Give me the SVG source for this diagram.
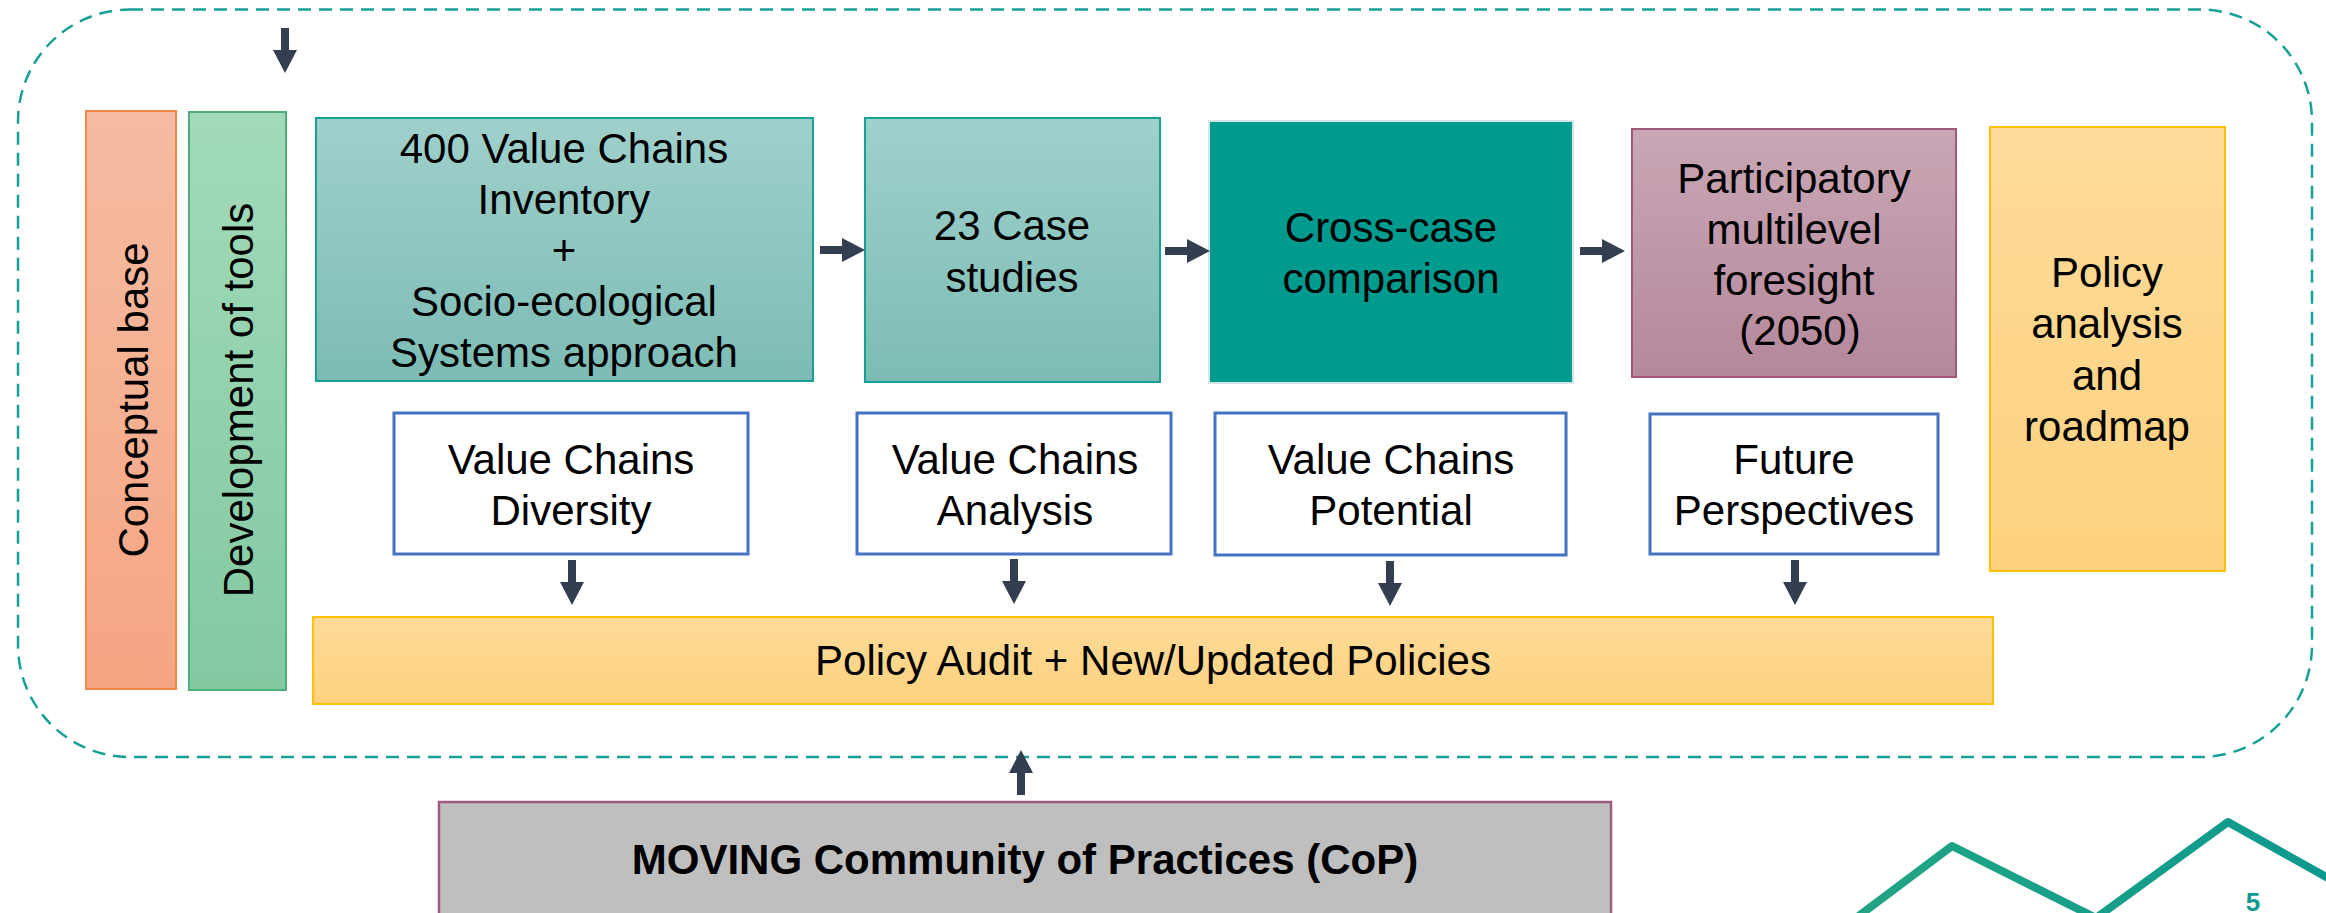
<svg xmlns="http://www.w3.org/2000/svg" width="2326" height="913" viewBox="0 0 2326 913">
  <defs>
    <linearGradient id="gTeal" x1="0" y1="0" x2="0" y2="1">
      <stop offset="0" stop-color="#A0D0CB"/>
      <stop offset="1" stop-color="#7CBCB5"/>
    </linearGradient>
    <linearGradient id="gMauve" x1="0" y1="0" x2="0" y2="1">
      <stop offset="0" stop-color="#C9A7B5"/>
      <stop offset="1" stop-color="#B5889B"/>
    </linearGradient>
    <linearGradient id="gYellow" x1="0" y1="0" x2="0" y2="1">
      <stop offset="0" stop-color="#FEDB9A"/>
      <stop offset="1" stop-color="#FED27E"/>
    </linearGradient>
    <linearGradient id="gOrange" x1="0" y1="0" x2="0" y2="1">
      <stop offset="0" stop-color="#F5BCA3"/>
      <stop offset="1" stop-color="#F5A582"/>
    </linearGradient>
    <linearGradient id="gGreen" x1="0" y1="0" x2="0" y2="1">
      <stop offset="0" stop-color="#A2DABA"/>
      <stop offset="1" stop-color="#82C9A2"/>
    </linearGradient>
    <linearGradient id="gLogo" x1="0" y1="0" x2="1" y2="0">
      <stop offset="0" stop-color="#22A584"/>
      <stop offset="1" stop-color="#0A988E"/>
    </linearGradient>
    <path id="arrowDown" d="M -4 0 L 4 0 L 4 22 L 12 22 L 0 45 L -12 22 L -4 22 Z"/>
  </defs>
  <style>
    text { font-family: "Liberation Sans", Arial, sans-serif; font-size: 42px; fill: #000; text-anchor: middle; }
    .bold { font-weight: bold; }
    .arrow { fill: #333F50; }
    .white { fill: #FFFFFF; stroke: #4472C4; stroke-width: 3; }
    .teal { fill: url(#gTeal); stroke: #17A096; stroke-width: 2; }
  </style>

  <!-- dashed frame -->
  <g id="frame">
    <rect x="18" y="9.5" width="2294" height="747.5" rx="112" ry="112" fill="none" stroke="#17A096" stroke-width="2.5" stroke-dasharray="13 8"/>
  </g>

  <g id="conceptual-base">
    <rect x="86" y="111" width="90" height="578" fill="url(#gOrange)" stroke="#F08A4B" stroke-width="2"/>
    <text transform="translate(148,400) rotate(-90)">Conceptual base</text>
  </g>

  <g id="development-of-tools">
    <rect x="189" y="112" width="97" height="578" fill="url(#gGreen)" stroke="#4DB07A" stroke-width="2"/>
    <text transform="translate(253,400) rotate(-90)">Development of tools</text>
  </g>

  <g id="inventory">
    <rect class="teal" x="316" y="118" width="497" height="263"/>
    <text x="564" y="163">400 Value Chains</text>
    <text x="564" y="214">Inventory</text>
    <text x="564" y="265">+</text>
    <text x="564" y="316">Socio-ecological</text>
    <text x="564" y="367">Systems approach</text>
  </g>

  <g id="case-studies">
    <rect class="teal" x="865" y="118" width="295" height="264"/>
    <text x="1012" y="240">23 Case</text>
    <text x="1012" y="292">studies</text>
  </g>

  <g id="cross-case">
    <rect x="1209" y="121" width="364" height="262" fill="#009A8E" stroke="#D5E5E3" stroke-width="2"/>
    <text x="1391" y="242">Cross-case</text>
    <text x="1391" y="293">comparison</text>
  </g>

  <g id="foresight">
    <rect x="1632" y="129" width="324" height="248" fill="url(#gMauve)" stroke="#A2587A" stroke-width="2"/>
    <text x="1794" y="193">Participatory</text>
    <text x="1794" y="244">multilevel</text>
    <text x="1794" y="295">foresight</text>
    <text x="1800" y="345">(2050)</text>
  </g>

  <g id="policy-analysis">
    <rect x="1990" y="127" width="235" height="444" fill="url(#gYellow)" stroke="#FFC000" stroke-width="2"/>
    <text x="2107" y="287">Policy</text>
    <text x="2107" y="338">analysis</text>
    <text x="2107" y="390">and</text>
    <text x="2107" y="441">roadmap</text>
  </g>

  <g id="vc-diversity">
    <rect class="white" x="394" y="413" width="354" height="141"/>
    <text x="571" y="474">Value Chains</text>
    <text x="571" y="525">Diversity</text>
  </g>

  <g id="vc-analysis">
    <rect class="white" x="857" y="413" width="314" height="141"/>
    <text x="1015" y="474">Value Chains</text>
    <text x="1015" y="525">Analysis</text>
  </g>

  <g id="vc-potential">
    <rect class="white" x="1215" y="413" width="351" height="142"/>
    <text x="1391" y="474">Value Chains</text>
    <text x="1391" y="525">Potential</text>
  </g>

  <g id="future-perspectives">
    <rect class="white" x="1650" y="414" width="288" height="140"/>
    <text x="1794" y="474">Future</text>
    <text x="1794" y="525">Perspectives</text>
  </g>

  <g id="policy-audit">
    <rect x="313" y="617" width="1680" height="87" fill="url(#gYellow)" stroke="#FFC000" stroke-width="2"/>
    <text x="1153" y="675">Policy Audit + New/Updated Policies</text>
  </g>

  <g id="cop">
    <rect x="439" y="802" width="1172" height="140" fill="#BFBFBF" stroke="#A05A80" stroke-width="2.5"/>
    <text class="bold" x="1025" y="874">MOVING Community of Practices (CoP)</text>
  </g>

  <g id="connectors">
    <use href="#arrowDown" class="arrow" transform="translate(285,28)"/>
    <use href="#arrowDown" class="arrow" transform="translate(820,250) rotate(-90)"/>
    <use href="#arrowDown" class="arrow" transform="translate(1165,251) rotate(-90)"/>
    <use href="#arrowDown" class="arrow" transform="translate(1580,251) rotate(-90)"/>
    <use href="#arrowDown" class="arrow" transform="translate(572,560)"/>
    <use href="#arrowDown" class="arrow" transform="translate(1014,559)"/>
    <use href="#arrowDown" class="arrow" transform="translate(1390,561)"/>
    <use href="#arrowDown" class="arrow" transform="translate(1795,560)"/>
    <use href="#arrowDown" class="arrow" transform="translate(1021,795) rotate(180)"/>
  </g>

  <g id="logo">
    <polyline points="1840,930 1952,846 2096,918 2228,822 2360,896" fill="none" stroke="url(#gLogo)" stroke-width="8" stroke-linejoin="round"/>
    <text class="bold" x="2253" y="911" style="font-size:26px;fill:#0E9A8E">5</text>
  </g>
</svg>
